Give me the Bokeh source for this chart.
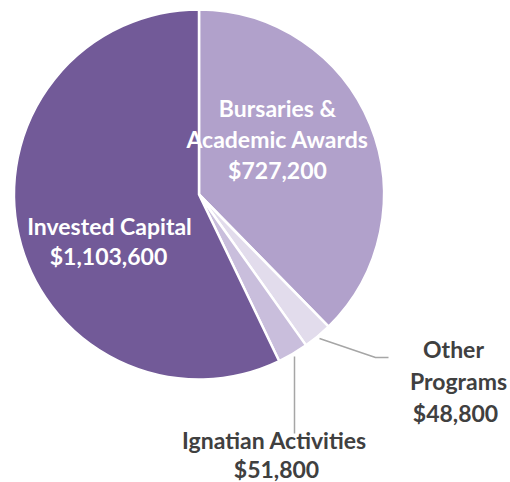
import math
from bokeh.plotting import figure
from bokeh.models import Range1d, ColumnDataSource
from bokeh.core.properties import value
from bokeh.embed import file_html
from bokeh.resources import INLINE

# ---- data ----
categories = ["Bursaries & Academic Awards", "Other Programs", "Ignatian Activities", "Invested Capital"]
amounts = [727200, 48800, 51800, 1103600]
label_lines = [
    ["Bursaries &", "Academic Awards", "$727,200"],
    ["Other", "Programs", "$48,800"],
    ["Ignatian Activities", "$51,800"],
    ["Invested Capital", "$1,103,600"],
]
colors = ["#b1a1cb", "#e2dcec", "#c9bedc", "#725a98"]

# ---- layout ----
W, H = 510, 482
def fx(px): return px
def fy(py): return H - py

cx, cy = fx(198.5), fy(194)
R = 185

total = sum(amounts)
starts, ends = [], []
a = math.pi / 2
for v in amounts:
    sweep = 2 * math.pi * v / total
    starts.append(a)
    ends.append(a - sweep)
    a -= sweep

p = figure(width=W, height=H, output_backend="svg", toolbar_location=None,
           x_range=Range1d(0, W), y_range=Range1d(0, H), min_border=0)
p.axis.visible = False
p.grid.visible = False
p.outline_line_color = None
p.background_fill_color = "white"

src = ColumnDataSource(dict(cat=categories, amt=amounts, start=starts, end=ends, color=colors))
p.wedge(x=cx, y=cy, radius=R, start_angle="start", end_angle="end", direction="clock",
        fill_color="color", line_color="white", line_width=2.5, source=src)

# leader lines
p.line([fx(319), fx(375), fx(388)], [fy(338), fy(357), fy(357)], line_color="#a6a6a6", line_width=1.5)
p.line([fx(294), fx(294)], [fy(356), fy(433)], line_color="#a6a6a6", line_width=1.5)

font = value("Lato")
def lines(xs, ys, texts, color, size="23px"):
    p.text(x=xs, y=ys, text=texts, text_font=font, text_font_style="bold",
           text_font_size=size, text_color=color, text_align="center", text_baseline="middle")

# Bursaries label (inside)
lines([fx(277), fx(277), fx(277)], [fy(107), fy(138), fy(169)], label_lines[0], "white")
# Invested label (inside)
lines([fx(109), fx(108)], [fy(225), fy(255)], label_lines[3], "white")
# Other Programs (outside)
lines([fx(453), fx(458), fx(455)], [fy(348), fy(380), fy(412)], label_lines[1], "#404040")
# Ignatian Activities (outside)
lines([fx(274), fx(276)], [fy(439), fy(468)], label_lines[2], "#404040")

open("out.html", "w").write(file_html(p, INLINE))
